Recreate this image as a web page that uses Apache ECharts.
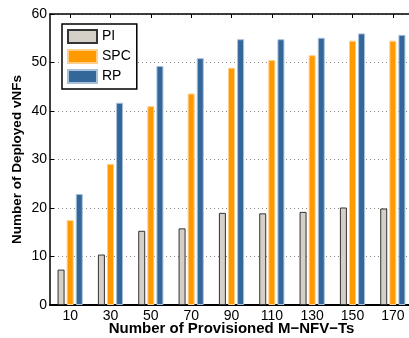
<!DOCTYPE html>
<html>
<head>
<meta charset="utf-8">
<script src="https://cdn.jsdelivr.net/npm/echarts@6/dist/echarts.min.js"></script>
<style>
  html, body { margin: 0; padding: 0; background: #fff; }
  #chart { width: 409px; height: 338px; }
</style>
</head>
<body>
<div id="chart"></div>
<script>
// provisioned M-NFV-Ts on the x axis
var categories = ['10', '30', '50', '70', '90', '110', '130', '150', '170'];
var piValues  = [7.3, 10.4, 15.3, 15.8, 19.0, 18.9, 19.2, 20.1, 19.9];
var spcValues = [17.5, 29.1, 41.0, 43.6, 48.9, 50.5, 51.5, 54.5, 54.5];
var rpValues  = [22.9, 41.7, 49.3, 50.9, 54.8, 54.8, 55.1, 56.0, 55.7];

var font = 'Liberation Sans, Arial, Helvetica, sans-serif';

var chart = echarts.init(document.getElementById('chart'));

chart.setOption({
  animation: false,
  textStyle: { fontFamily: font },
  legend: {
    orient: 'vertical',
    left: 62,
    top: 24,
    icon: 'rect',
    itemWidth: 29,
    itemHeight: 13,
    itemGap: 5,
    padding: [5, 6, 5, 5],
    borderColor: '#000',
    borderWidth: 1.5,
    borderRadius: 0,
    backgroundColor: '#fff',
    textStyle: { color: '#000', fontSize: 14, fontFamily: font },
    data: ['PI', 'SPC', 'RP']
  },
  grid: {
    left: 50,
    right: -4,
    top: 14,
    bottom: 33,
    outerBoundsMode: 'none',
    containLabel: false
  },
  xAxis: [{
    type: 'category',
    data: categories,
    position: 'bottom',
    name: 'Number of Provisioned M\u2212NFV\u2212Ts',
    nameLocation: 'middle',
    nameGap: 16,
    nameMoveOverlap: false,
    nameTextStyle: { color: '#000', fontSize: 15, fontWeight: 'bold', fontFamily: font },
    axisLine: { lineStyle: { color: '#000', width: 2 } },
    axisTick: { show: true, inside: true, alignWithLabel: true, length: 4, lineStyle: { color: '#000' } },
    axisLabel: { color: '#000', fontSize: 14, margin: 4 },
    splitLine: { show: false }
  }, {
    type: 'category',
    data: categories,
    position: 'top',
    axisLine: { lineStyle: { color: '#000', width: 1.5 } },
    axisTick: { show: true, inside: true, alignWithLabel: true, length: 4, lineStyle: { color: '#000' } },
    axisLabel: { show: false },
    splitLine: { show: false }
  }],
  yAxis: {
    type: 'value',
    min: 0,
    max: 60,
    interval: 10,
    name: 'Number of Deployed vNFs',
    nameLocation: 'middle',
    nameGap: 26,
    nameMoveOverlap: false,
    nameTextStyle: { color: '#000', fontSize: 13.5, fontWeight: 'bold', fontFamily: font },
    axisLine: { show: true, lineStyle: { color: '#000', width: 1.5 } },
    axisTick: { show: true, inside: true, length: 4, lineStyle: { color: '#000' } },
    axisLabel: { color: '#000', fontSize: 14, margin: 3 },
    splitLine: {
      show: true,
      lineStyle: { color: '#888', type: [1, 3], width: 1 }
    }
  },
  series: [
    {
      name: 'PI',
      type: 'bar',
      barWidth: 7,
      barGap: '30%',
      data: piValues,
      itemStyle: { color: '#d4d0c8', borderColor: '#333', borderWidth: 1 }
    },
    {
      name: 'SPC',
      type: 'bar',
      barWidth: 7,
      barGap: '30%',
      data: spcValues,
      itemStyle: { color: '#ff9900', borderColor: '#ffcf88', borderWidth: 1 }
    },
    {
      name: 'RP',
      type: 'bar',
      barWidth: 7,
      barGap: '30%',
      data: rpValues,
      itemStyle: { color: '#336699', borderColor: '#a9c0d9', borderWidth: 1 }
    }
  ]
});
</script>
</body>
</html>
